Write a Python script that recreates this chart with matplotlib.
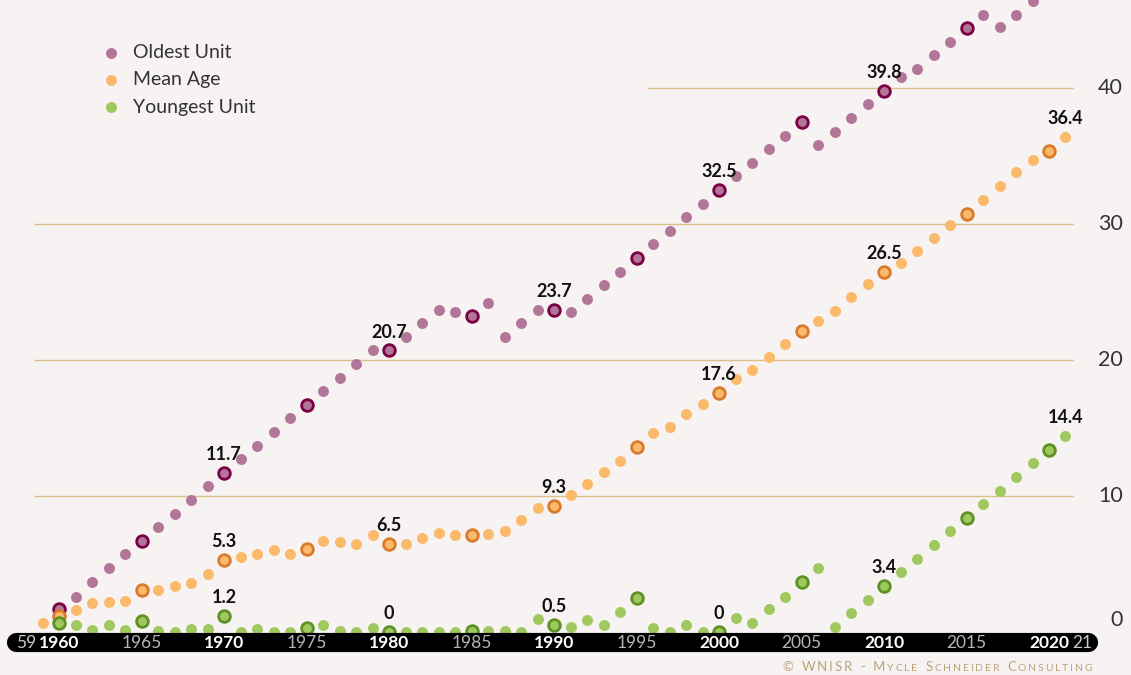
import matplotlib.pyplot as plt
import numpy as np

# ages of the world reactor fleet, years
years = np.arange(1959, 2022)

oldest_unit = [np.nan, 1.7, 2.6, 3.7, 4.7, 5.7, 6.7, 7.7, 8.7, 9.7, 10.7,
               11.7, 12.7, 13.7, 14.7, 15.7, 16.7, 17.7, 18.7, 19.7, 20.7,
               20.7, 21.7, 22.7, 23.7, 23.5, 23.2, 24.2, 21.7, 22.7, 23.7,
               23.7, 23.5, 24.5, 25.5, 26.5, 27.5, 28.5, 29.5, 30.5, 31.5,
               32.5, 33.5, 34.5, 35.5, 36.5, 37.5, 35.8, 36.8, 37.8, 38.8,
               39.8, 40.8, 41.4, 42.4, 43.4, 44.4, 45.4, 44.5, 45.4, 46.4,
               47.4, 48.4]

mean_age = [0.7, 1.2, 1.6, 2.1, 2.2, 2.3, 3.1, 3.1, 3.4, 3.6, 4.3,
            5.3, 5.5, 5.7, 6.0, 5.7, 6.1, 6.7, 6.6, 6.5, 7.1,
            6.5, 6.5, 6.9, 7.3, 7.1, 7.1, 7.2, 7.4, 8.2, 9.1,
            9.3, 10.1, 10.9, 11.8, 12.6, 13.6, 14.6, 15.1, 16.0, 16.8,
            17.6, 18.6, 19.3, 20.2, 21.2, 22.1, 22.9, 23.6, 24.6, 25.6,
            26.5, 27.1, 28.0, 29.0, 29.9, 30.7, 31.8, 32.8, 33.8, 34.7,
            35.4, 36.4]

youngest_unit = [np.nan, 0.7, 0.5, 0.15, 0.5, 0.15, 0.8, 0.05, 0.0, 0.2, 0.2,
                 1.2, 0.0, 0.2, 0.0, 0.0, 0.3, 0.5, 0.1, 0.0, 0.3,
                 0.0, 0.0, 0.0, 0.0, 0.0, 0.1, 0.1, 0.1, 0.0, 0.95,
                 0.5, 0.4, 0.9, 0.5, 1.5, 2.5, 0.3, 0.0, 0.5, 0.0,
                 0.0, 1.0, 0.7, 1.7, 2.6, 3.7, 4.7, 0.4, 1.4, 2.35,
                 3.4, 4.4, 5.4, 6.4, 7.4, 8.4, 9.4, 10.4, 11.4, 12.4,
                 13.4, 14.4]

series_names = ['Oldest Unit', 'Mean Age', 'Youngest Unit']
fill_colors = ['#b27699', '#fbb96a', '#9fc95e']
ring_colors = ['#7b0044', '#d97a2c', '#5e9123']

label_years = {
    'Oldest Unit': [1970, 1980, 1990, 2000, 2010],
    'Mean Age': [1970, 1980, 1990, 2000, 2010, 2021],
    'Youngest Unit': [1970, 1980, 1990, 2000, 2010, 2021],
}

grid_levels = [10, 20, 30, 40]
tick_years = [1960, 1965, 1970, 1975, 1980, 1985, 1990, 1995, 2000, 2005, 2010, 2015, 2020]

bg = '#f7f3f2'
plt.rcParams['font.family'] = ['Lato', 'DejaVu Sans']

fig = plt.figure(figsize=(11.31, 6.75), dpi=100, facecolor=bg)
ax = fig.add_axes([0, 0, 1, 1])
ax.set_facecolor(bg)
ax.set_xlim(1956.42, 2024.97)
ax.set_ylim(-3.16, 46.47)
ax.axis('off')

# horizontal guide lines + right hand labels
for lev in grid_levels:
    x0 = 1995.7 if lev == 40 else 1958.55
    ax.plot([x0, 2021.45], [lev, lev], color='#dcc08a', lw=1.0, zorder=1)
    ax.text(2024.48, lev, str(lev), ha='right', va='center',
            fontsize=15.5, color='#333333')
ax.text(2024.48, 0.88, '0', ha='right', va='center',
        fontsize=15.5, color='#333333')

# series
all_series = [oldest_unit, mean_age, youngest_unit]
for name, vals, fc, rc in zip(series_names, all_series, fill_colors, ring_colors):
    vals = np.array(vals, dtype=float)
    ax.plot(years, vals, ls='none', marker='o', ms=7.9, mfc=fc, mec='none', zorder=3)
    hl = np.isin(years, tick_years)
    ax.plot(years[hl], vals[hl], ls='none', marker='o', ms=8.4, mfc=fc, mec=rc,
            mew=2.0, zorder=4)
    for yr in label_years[name]:
        v = vals[years == yr][0]
        txt = '0' if v == 0 else f'{v:.1f}'
        ax.annotate(txt, (yr, v), xytext=(0, 7), textcoords='offset points',
                    ha='center', va='bottom', fontsize=13, fontweight='bold',
                    color='#111111', zorder=5)

# black time axis bar
ax.plot([1957.36, 2022.39], [-0.77, -0.77], color='black', lw=13.8,
        solid_capstyle='round', zorder=6)
for yr in tick_years:
    if yr % 10 == 0:
        ax.text(yr, -0.82, str(yr), ha='center', va='center', fontsize=12.5,
                fontweight='bold', color='white', zorder=7)
    else:
        ax.text(yr, -0.82, str(yr), ha='center', va='center', fontsize=12.5,
                color='#b5b5b5', zorder=7)
ax.text(1958.62, -0.82, '59', ha='right', va='center', fontsize=12.5,
        color='#c8c8c8', zorder=7)
ax.text(2021.42, -0.82, '21', ha='left', va='center', fontsize=12.5,
        color='#c8c8c8', zorder=7)

# legend
for i, (name, fc) in enumerate(zip(series_names, fill_colors)):
    ypix = 53 + 27 * i
    fig.lines.append(plt.Line2D([111 / 1131], [1 - ypix / 675], ls='none', marker='o',
                                ms=7.9, mfc=fc, mec='none', transform=fig.transFigure))
    fig.text(133 / 1131, 1 - ypix / 675, name, ha='left', va='center',
             fontsize=14, color='#333333')

# credit line in small caps, built piece by piece
credit = '© WNISR - Mycle Schneider Consulting'
renderer = fig.canvas.get_renderer()
pieces = []
xpos = 0.0
for ch in credit:
    if ch.islower():
        size, s = 7.5, ch.upper()
    else:
        size, s = 9.5, ch
    t = fig.text(0, 1 - 668 / 675, s, ha='left', va='baseline', fontsize=size,
                 color='#bba47c')
    w = t.get_window_extent(renderer).width
    if s == ' ':
        w = 4.5
    pieces.append((t, xpos))
    xpos += w + 1.8
shift = 1092 - (xpos - 1.8)
for t, xp in pieces:
    t.set_x((xp + shift) / 1131)
    t.set_y(1 - 671 / 675)

fig.savefig('out.png', dpi=100, facecolor=bg)
